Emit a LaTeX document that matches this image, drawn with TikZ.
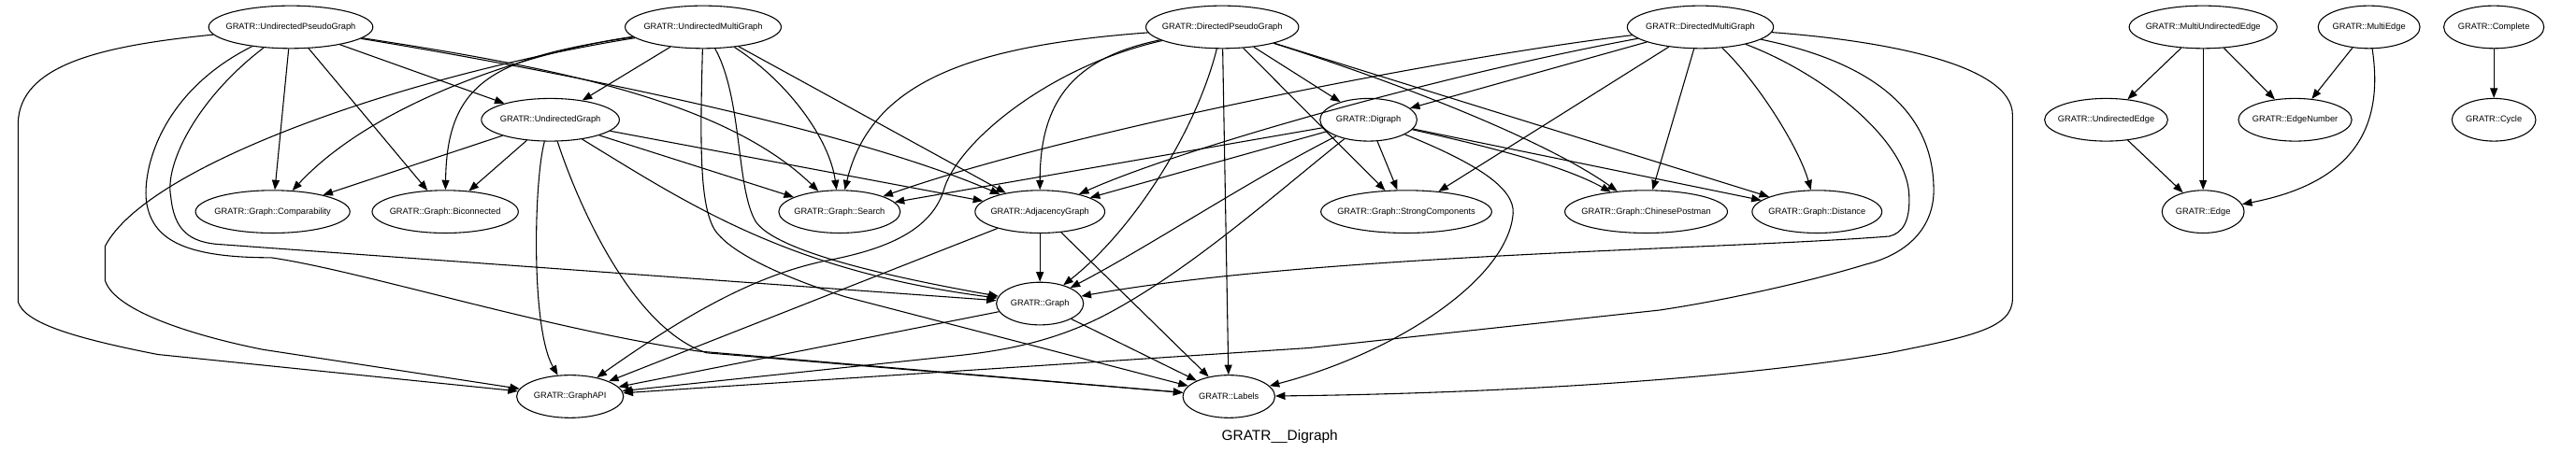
\documentclass[tikz,border=0pt]{standalone}
\usepackage{fontspec}
\setmainfont{Liberation Sans}
\usetikzlibrary{shapes.geometric, arrows.meta}

\begin{document}
\begin{tikzpicture}[x=0.02cm, y=-0.02cm, >={Triangle[length=3.4pt,width=2.6pt]}, line width=0.35pt,
    every node/.style={font=\fontsize{3}{3.5}\selectfont},
    cls/.style={draw, ellipse, minimum height=0.52cm, minimum width=#1, inner xsep=-8pt, inner ysep=-2pt}]
				% 1. 画布
				\useasboundingbox[fill=white] (0,0) rectangle (1568,276);
				
				% 2. 第一层节点
				\node[cls=2.00cm] (upg) at (177,16.5) {GRATR::UndirectedPseudoGraph};
				\node[cls=1.90cm] (umg) at (428,16.5) {GRATR::UndirectedMultiGraph};
				\node[cls=1.86cm] (dpg) at (744,16.5) {GRATR::DirectedPseudoGraph};
				\node[cls=1.78cm] (dmg) at (1035,16.5) {GRATR::DirectedMultiGraph};
				\node[cls=1.80cm] (mue) at (1341,16.5) {GRATR::MultiUndirectedEdge};
				\node[cls=1.24cm] (me) at (1442,16.5) {GRATR::MultiEdge};
				\node[cls=1.22cm] (complete) at (1518,16.5) {GRATR::Complete};
				
				% 3. 第二层节点
				\node[cls=1.68cm] (ug) at (335,73) {GRATR::UndirectedGraph};
				\node[cls=1.18cm] (digraph) at (833,73) {GRATR::Digraph};
				\node[cls=1.50cm] (uedge) at (1282,73) {GRATR::UndirectedEdge};
				\node[cls=1.38cm] (enum) at (1397,73) {GRATR::EdgeNumber};
				\node[cls=1.02cm] (cycle) at (1518,73) {GRATR::Cycle};
				
				% 4. 第三层节点
				\node[cls=1.88cm] (comp) at (166,129) {GRATR::Graph::Comparability};
				\node[cls=1.78cm] (bicon) at (271,129) {GRATR::Graph::Biconnected};
				\node[cls=1.48cm] (search) at (511,129) {GRATR::Graph::Search};
				\node[cls=1.58cm] (adj) at (633,129) {GRATR::AdjacencyGraph};
				\node[cls=2.08cm] (strong) at (856,129) {GRATR::Graph::StrongComponents};
				\node[cls=1.98cm] (chinese) at (1002,129) {GRATR::Graph::ChinesePostman};
				\node[cls=1.58cm] (dist) at (1106,129) {GRATR::Graph::Distance};
				\node[cls=1.00cm] (edge) at (1341,129) {GRATR::Edge};
				
				% 5. 底层节点与标题
				\node[cls=1.06cm] (graph) at (633,185) {GRATR::Graph};
				\node[cls=1.30cm] (api) at (347,241.6) {GRATR::GraphAPI};
				\node[cls=1.12cm] (labels) at (748,241.6) {GRATR::Labels};
				\node (title) at (779,266) {\fontsize{5}{6}\selectfont GRATR\_\_Digraph};
				
				% 6. UndirectedPseudoGraph 的边
				\draw[->] (upg) .. controls (60,28) and (12,40) .. (11,75) -- (11,184) .. controls (15,196) and (40,205) .. (96,216) -- (api);
				\draw[->] (upg) -- (comp);
				\draw[->] (upg) -- (bicon);
				\draw[->] (upg) -- (ug);
				\draw[->] (upg) .. controls (330,40) and (440,60) .. (search);
				\draw[->] (upg) .. controls (350,45) and (520,80) .. (adj);
				\draw[->] (upg) .. controls (120,60) and (100,100) .. (104,120) .. controls (106,140) and (115,148) .. (135,149) -- (graph);
				\draw[->] (upg) .. controls (100,55) and (87,100) .. (89,122) .. controls (92,145) and (110,157) .. (165,157) .. controls (220,165) and (330,200) .. (425,214) -- (labels);
				
				% 7. UndirectedMultiGraph 的边
				\draw[->] (umg) -- (ug);
				\draw[->] (umg) .. controls (330,30) and (230,60) .. (comp);
				\draw[->] (umg) .. controls (300,35) and (272,50) .. (bicon);
				\draw[->] (umg) .. controls (250,45) and (90,100) .. (64,150) -- (64,171) .. controls (70,190) and (120,205) .. (160,213) -- (api);
				\draw[->] (umg) .. controls (480,50) and (505,85) .. (search);
				\draw[->] (umg) -- (adj);
				\draw[->] (umg) .. controls (452,60) and (448,115) .. (460,135) .. controls (470,150) and (520,165) .. (graph);
				\draw[->] (umg) .. controls (426,90) and (426,125) .. (435,140) .. controls (445,155) and (480,170) .. (515,181) -- (labels);
				
				% 8. UndirectedGraph 的边
				\draw[->] (ug) -- (comp);
				\draw[->] (ug) -- (bicon);
				\draw[->] (ug) .. controls (325,110) and (323,200) .. (api);
				\draw[->] (ug) .. controls (352,125) and (385,200) .. (430,215) -- (labels);
				\draw[->] (ug) .. controls (420,125) and (480,165) .. (graph);
				\draw[->] (ug) -- (search);
				\draw[->] (ug) -- (adj);
				
				% 9. DirectedPseudoGraph 的边
				\draw[->] (dpg) .. controls (590,28) and (530,50) .. (search);
				\draw[->] (dpg) .. controls (655,35) and (633,60) .. (adj);
				\draw[->] (dpg) .. controls (640,40) and (585,85) .. (575,114) .. controls (568,140) and (540,152) .. (502,159) .. controls (460,168) and (420,190) .. (api);
				\draw[->] (dpg) .. controls (728,80) and (690,140) .. (graph);
				\draw[->] (dpg) -- (labels);
				\draw[->] (dpg) -- (digraph);
				\draw[->] (dpg) -- (strong);
				\draw[->] (dpg) .. controls (850,50) and (940,85) .. (chinese);
				\draw[->] (dpg) -- (dist);
				
				% 10. DirectedMultiGraph 的边
				\draw[->] (dmg) .. controls (880,35) and (650,80) .. (search);
				\draw[->] (dmg) .. controls (880,45) and (720,90) .. (adj);
				\draw[->] (dmg) -- (digraph);
				\draw[->] (dmg) -- (strong);
				\draw[->] (dmg) -- (chinese);
				\draw[->] (dmg) .. controls (1070,50) and (1095,90) .. (dist);
				\draw[->] (dmg) .. controls (1110,45) and (1160,85) .. (1162,118) .. controls (1163,135) and (1158,142) .. (1150,144) .. controls (1050,152) and (800,155) .. (graph);
				\draw[->] (dmg) .. controls (1150,40) and (1178,75) .. (1177,118) .. controls (1176,140) and (1160,155) .. (1136,161) .. controls (1100,172) and (1050,183) .. (1010,189) -- (797,212) -- (api);
				\draw[->] (dmg) .. controls (1150,25) and (1225,40) .. (1225,70) -- (1225,182) .. controls (1225,200) and (1200,205) .. (1150,215) .. controls (1050,232) and (900,240) .. (labels);
				
				% 11. Digraph 的边
				\draw[->] (digraph) -- (search);
				\draw[->] (digraph) -- (adj);
				\draw[->] (digraph) .. controls (760,110) and (700,150) .. (graph);
				\draw[->] (digraph) .. controls (780,115) and (730,160) .. (680,188) .. controls (650,205) and (620,213) .. (580,217) -- (api);
				\draw[->] (digraph) -- (strong);
				\draw[->] (digraph) .. controls (900,100) and (922,115) .. (921,130) .. controls (918,170) and (850,215) .. (labels);
				\draw[->] (digraph) .. controls (900,88) and (950,100) .. (chinese);
				\draw[->] (digraph) -- (dist);
				
				% 12. 下层的边
				\draw[->] (adj) -- (graph);
				\draw[->] (adj) -- (labels);
				\draw[->] (adj) -- (api);
				\draw[->] (graph) -- (api);
				\draw[->] (graph) -- (labels);
				
				% 13. 右侧的边
				\draw[->] (mue) -- (uedge);
				\draw[->] (mue) -- (edge);
				\draw[->] (mue) -- (enum);
				\draw[->] (me) -- (enum);
				\draw[->] (me) .. controls (1450,70) and (1440,110) .. (edge);
				\draw[->] (uedge) -- (edge);
				\draw[->] (complete) -- (cycle);
			\end{tikzpicture}
\end{document}
